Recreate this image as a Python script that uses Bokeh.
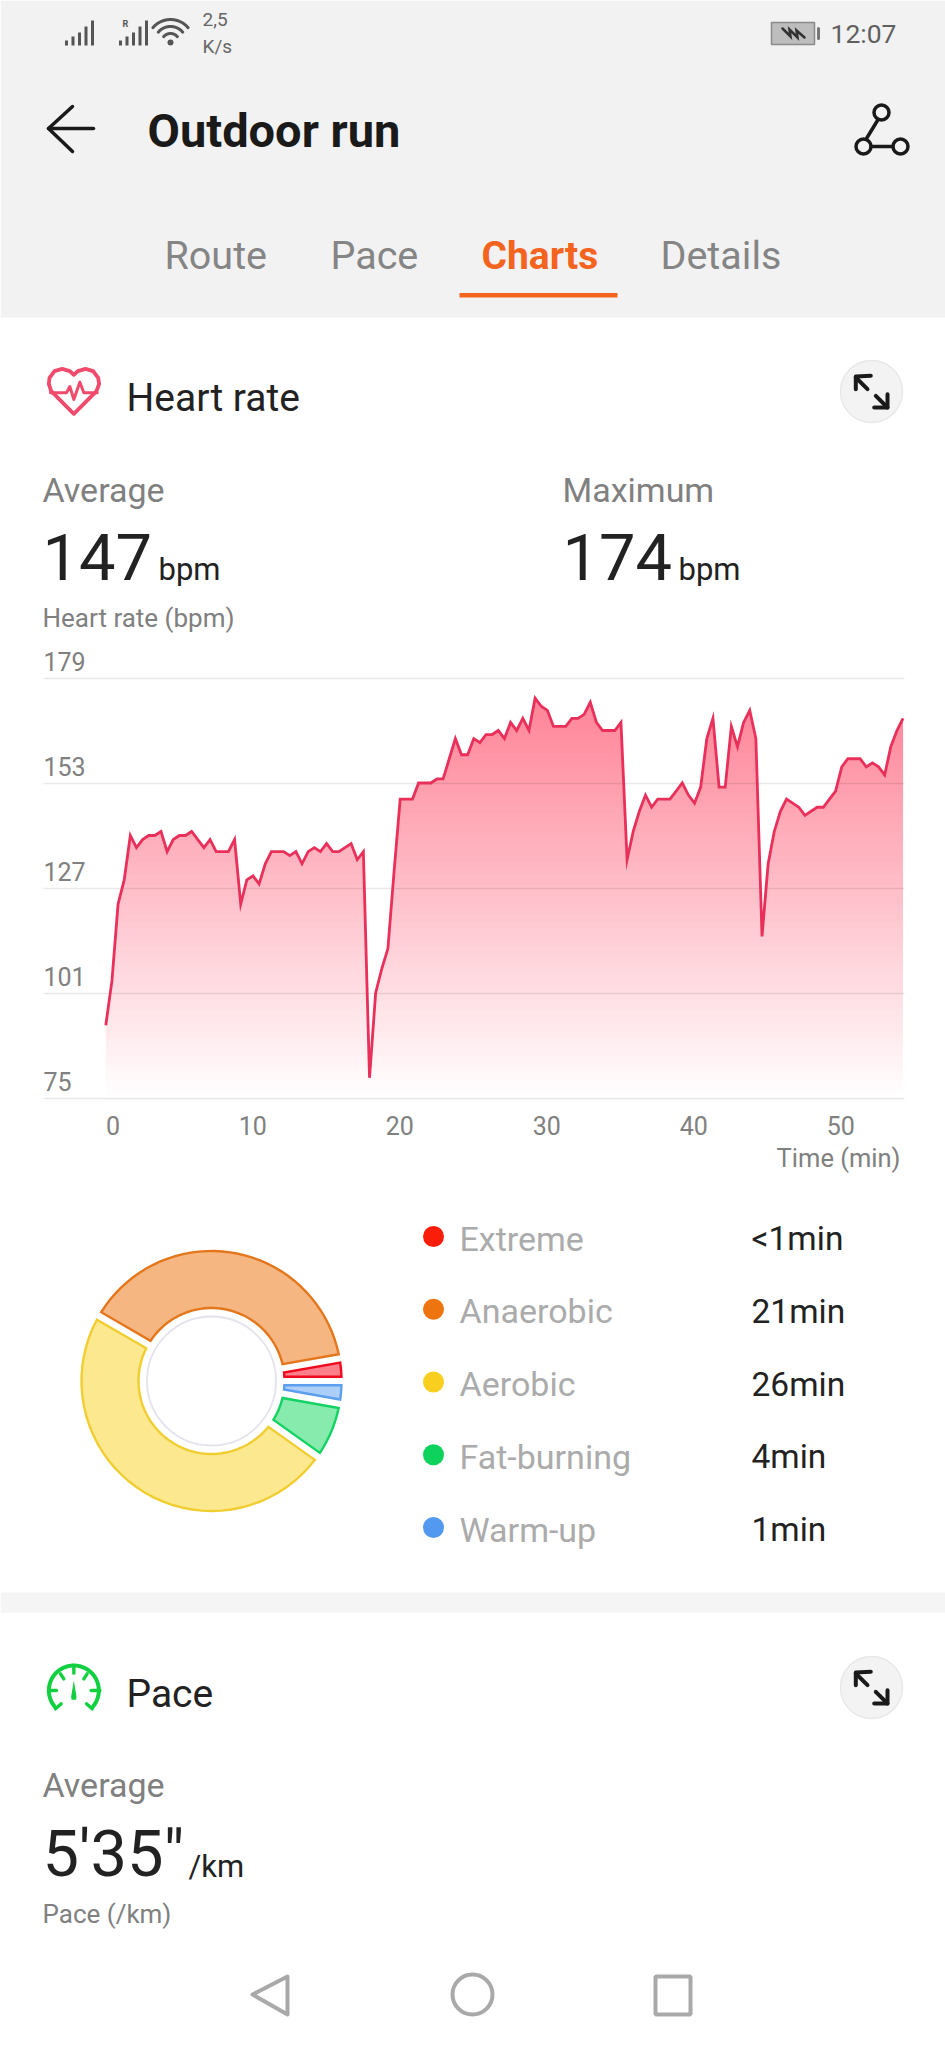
import numpy as np
from bokeh.core.properties import value
from bokeh.embed import file_html
from bokeh.layouts import column
from bokeh.models import FixedTicker, Range1d
from bokeh.plotting import figure
from bokeh.resources import INLINE

# ---- data ----
heart_rate = [
    93, 104, 123, 129, 140, 137, 139, 140, 140, 141,
    136, 139, 140, 140, 141, 139, 137, 139, 136, 136,
    136, 139, 123, 129, 130, 128, 133, 136, 136, 136,
    135, 136, 133, 136, 137, 136, 138, 136, 136, 137,
    138, 134, 136, 80, 101, 107, 112, 131, 149, 149,
    149, 153, 153, 153, 154, 154, 159, 164, 160, 160,
    164, 163, 165, 165, 166, 164, 168, 166, 169, 166,
    174, 172, 171, 167, 167, 167, 169, 169, 170, 173,
    168, 166, 166, 166, 168, 134, 141, 146, 150, 147,
    149, 149, 149, 151, 153, 150, 148, 152, 164, 169,
    152, 152, 167, 162, 168, 171, 164, 115, 133, 141,
    146, 149, 148, 147, 145, 146, 147, 147, 149, 151,
    157, 159, 159, 159, 157, 158, 157, 155, 162, 166,
    169,
]
sample_step_min = 0.4172
y_ticks = [75, 101, 127, 153, 179]
y_tick_labels = ["75", "101", "127", "153", "179"]
x_tick_positions = [0.5, 10, 20, 30, 40, 50]
x_tick_labels = ["0", "10", "20", "30", "40", "50"]

zone_names = ["Extreme", "Anaerobic", "Aerobic", "Fat-burning", "Warm-up"]
zone_labels = ["<1min", "21min", "26min", "4min", "1min"]
zone_share = [1.46, 20.4, 25.45, 3.7, 1.47]
zone_dot = ["#FA1E0A", "#EE7410", "#F8CF1E", "#0DD25C", "#5399F0"]
zone_line = ["#F00A1E", "#E4761C", "#F0CE32", "#14D264", "#5C9FEE"]
zone_fill = ["#FF7F8A", "#F6B682", "#FCE88E", "#86EBAD", "#ABCFF7"]

tabs = ["Route", "Pace", "Charts", "Details"]

FONT = value("Roboto")
W = 945
INK = "#222222"
GREY = "#808080"


def chrome(top, bottom):
    p = figure(width=W, height=bottom - top, x_range=Range1d(0, 945), y_range=Range1d(bottom, top),
               x_axis_location=None, y_axis_location=None, toolbar_location=None, output_backend="svg",
               min_border=0, outline_line_color=None, background_fill_color="white", frame_align=False)
    p.grid.visible = False
    return p


def T(p, x, y, s, size, color=INK, style="normal", align="left"):
    # y is the text's baseline in page pixels
    p.text(x=[x], y=[y - 0.355 * size], text=[s], text_font=FONT, text_font_size=f"{size}px", text_color=color,
           text_font_style=style, text_align=align, text_baseline="middle")


def L(p, xs, ys, color=INK, width=3.5, join="round"):
    p.line(xs, ys, line_color=color, line_width=width, line_join=join, line_cap="round")


def arc_pts(cx, cy, r, a0, a1, n=40):
    a = np.radians(np.linspace(a0, a1, n))
    return list(cx + r * np.cos(a)), list(cy - r * np.sin(a))


def expand_button(p, cx, cy):
    p.scatter([cx], [cy], size=62, marker="circle", fill_color="#F3F3F3", line_color="#E8E8E8", line_width=1.5)
    L(p, [cx - 15.7, cx - 4], [cy - 14, cy - 2.3], "#1A1A1A", 4)
    L(p, [cx + 4.3, cx + 16], [cy + 4.3, cy + 16], "#1A1A1A", 4)
    L(p, [cx - 15.7, cx - 15.7, cx - 0.7], [cy - 2.3, cy - 15, cy - 15.7], "#1A1A1A", 4)
    L(p, [cx + 16, cx + 16, cx + 2.7], [cy + 2.7, cy + 16, cy + 16], "#1A1A1A", 4)


# ---- chart geometry (page pixels) ----
PX_MIN = 14.7
PX_BPM = 105 / 26
GRID_TOP, GRID_BOTTOM = 677.5, 1097.5
CHART_TOP, FRAME_H, BOTTOM_BORDER = 640, 460, 40

# ---- header and card heading ----
top = chrome(0, CHART_TOP)
top.quad(left=[0], right=[945], top=[0], bottom=[317], fill_color="#F2F2F2", line_color=None)

for x0, hs in ((66, (5, 9, 13, 19, 25)), (120, (5, 9, 13, 19, 25))):
    top.segment(x0=[x0 + 6.5 * i for i in range(5)], y0=[45] * 5,
                x1=[x0 + 6.5 * i for i in range(5)], y1=[45 - h for h in hs],
                line_color="#555555", line_width=3)
T(top, 122, 27, "R", 9, "#555555", "bold")
for r in (9, 16, 23):
    xs, ys = arc_pts(170, 42, r, 40, 140)
    L(top, xs, ys, "#555555", 3)
top.scatter([170], [42], size=6, marker="circle", fill_color="#555555", line_color=None)
T(top, 202, 26, "2,5", 19, "#666666")
T(top, 202, 53, "K/s", 19, "#666666")
top.quad(left=[771], right=[814], top=[22], bottom=[44], fill_color="#BDBDBD", line_color="#8A8A8A", line_width=1.5)
L(top, [818, 818], [28, 38], "#777777", 3)
L(top, [782, 790, 789, 797, 796, 804], [28, 36, 29, 37, 30, 37], "#333333", 2.5, "miter")
T(top, 830, 42, "12:07", 26.5, "#5F5F5F")

L(top, [72, 48, 72], [106, 128, 151], "#1A1A1A", 3.5)
L(top, [48, 93], [128, 128], "#1A1A1A", 3.5)
T(top, 147, 147, "Outdoor run", 47, "#1A1A1A", "bold")
top.scatter([881, 863, 900], [112, 146, 146], size=15, marker="circle", fill_color="#F2F2F2",
            line_color="#1A1A1A", line_width=3.5)
L(top, [877, 866], [120, 138], "#1A1A1A", 3.5)
L(top, [871, 892], [146, 146], "#1A1A1A", 3.5)

for name, x in zip(tabs, (164, 330, 481, 660)):
    active = name == "Charts"
    T(top, x, 269, name, 39 if active else 39.5, "#F4641F" if active else "#858585", "bold" if active else "normal")
top.quad(left=[459], right=[617], top=[292.5], bottom=[297], fill_color="#F4641F", line_color=None)

hx = np.array([130, 118, 95, 72, 57, 55, 62, 130, 198, 206, 203, 188, 165, 142, 130]) / 3 + 30
hy = np.array([73, 62, 55, 62, 82, 100, 122, 190, 122, 100, 82, 62, 55, 62, 73]) / 3 + 350
L(top, list(hx), list(hy), "#F24A6C", 3.8)
ex = np.array([60, 108, 118, 130, 148, 160, 200]) / 3 + 30
ey = np.array([127, 127, 108, 147, 95, 127, 127]) / 3 + 350
L(top, list(ex), list(ey), "#F24A6C", 3)
T(top, 126, 411, "Heart rate", 39)
expand_button(top, 871, 391)

T(top, 42, 502, "Average", 34, GREY)
T(top, 562, 502, "Maximum", 34, GREY)
T(top, 42, 580, "147", 65)
T(top, 158, 580, "bpm", 31)
T(top, 562, 580, "174", 65)
T(top, 678, 580, "bpm", 31)
T(top, 42, 627, "Heart rate (bpm)", 26, GREY)

# ---- heart-rate chart ----
x_min, x_max = -(105.3 - 43) / PX_MIN, (904 - 105.3) / PX_MIN
y_min = 75 - (CHART_TOP + FRAME_H - GRID_BOTTOM) / PX_BPM
y_max = 179 + (GRID_TOP - CHART_TOP) / PX_BPM

chart = figure(width=W, height=FRAME_H + BOTTOM_BORDER, frame_width=861, frame_height=FRAME_H,
               x_range=Range1d(x_min, x_max), y_range=Range1d(y_min, y_max),
               toolbar_location=None, output_backend="svg", outline_line_color=None,
               min_border_left=43, min_border_right=41, min_border_top=0, min_border_bottom=BOTTOM_BORDER,
               background_fill_color="white", frame_align=False)
chart.yaxis.visible = False
chart.xgrid.visible = False
chart.ygrid.ticker = FixedTicker(ticks=y_ticks)
chart.ygrid.grid_line_color = "black"
chart.ygrid.grid_line_alpha = 0.09
chart.ygrid.grid_line_width = 1.3
chart.ygrid.level = "guide"

ax = chart.xaxis[0]
ax.ticker = FixedTicker(ticks=x_tick_positions)
ax.major_label_overrides = dict(zip(x_tick_positions, x_tick_labels))
ax.major_tick_line_color = None
ax.minor_tick_line_color = None
ax.axis_line_color = None
ax.major_label_standoff = 9
ax.major_label_text_font = "Roboto"
ax.major_label_text_font_size = "25px"
ax.major_label_text_color = GREY

time_min = np.arange(len(heart_rate)) * sample_step_min
hr = np.array(heart_rate, dtype=float)

# vertical gradient under the curve, drawn as thin bands clipped to the curve
xd = np.unique(np.concatenate([time_min, np.arange(0, time_min[-1], 0.1)]))
hd = np.interp(xd, time_min, hr)
edges = np.arange(75, 175.5, 1.5)
for lo, hi in reversed(list(zip(edges[:-1], edges[1:]))):
    t = ((lo + hi) / 2 - 75) / 100
    g = int(round(255 - 125 * t))
    b = int(round(255 - 105 * t))
    chart.varea(xd, np.minimum(hd, lo - 0.4), np.minimum(hd, hi), fill_color=f"#FF{g:02X}{b:02X}")

chart.line(time_min, hr, line_color="#E8305A", line_width=2.8, line_join="miter", level="annotation")
chart.text(x=[x_min] * len(y_ticks), y=y_ticks, text=y_tick_labels, y_offset=-16.5, text_font=FONT,
           text_font_size="25px", text_color=GREY, text_align="left", text_baseline="middle")

# ---- axis title, zone ring, legend, pace card, navigation ----
low = chrome(CHART_TOP + FRAME_H + BOTTOM_BORDER, 2048)
T(low, 900, 1167, "Time (min)", 25.5, GREY, align="right")

CX, CY, R_OUT, R_IN, GAP = 211, 1380.5, 130, 73, 4.3
bounds = np.concatenate([[0], np.cumsum(zone_share)]) / sum(zone_share) * 360
xs_all, ys_all = [], []
for a0, a1 in zip(bounds[:-1], bounds[1:]):
    d_o, d_i = np.degrees(np.arcsin(GAP / R_OUT)), np.degrees(np.arcsin(GAP / R_IN))
    ox, oy = arc_pts(CX, CY, R_OUT, a0 + d_o, a1 - d_o)
    ix, iy = arc_pts(CX, CY, R_IN, a1 - d_i, a0 + d_i)
    xs_all.append(ox + ix)
    ys_all.append(oy + iy)
low.patches(xs_all, ys_all, fill_color=zone_fill, line_color=zone_line, line_width=2.4, line_join="miter")
low.scatter([CX], [CY], size=129, marker="circle", fill_color="white", line_color="#E3E3EC", line_width=1.8)

LEG_Y = [1236 + 72.75 * i for i in range(len(zone_names))]
low.scatter([433] * 5, LEG_Y, size=21, marker="circle", fill_color=zone_dot, line_color=None)
low.text(x=[459] * 5, y=[v + 2 for v in LEG_Y], text=zone_names, text_font=FONT, text_font_size="34px",
         text_color="#ABABAB", text_baseline="middle")
low.text(x=[751] * 5, y=[v + 2 for v in LEG_Y], text=zone_labels, text_font=FONT, text_font_size="33.5px",
         text_color=INK, text_baseline="middle")

low.quad(left=[0], right=[945], top=[1592], bottom=[1612.5], fill_color="#F5F5F5", line_color=None)

GREEN = "#10D040"
gx = lambda v: 30 + v / 3
gy = lambda v: 1650 + v / 3
xs, ys = arc_pts(gx(130), gy(120), 25, -40, 220)
L(low, xs, ys, GREEN, 4)
for a, b, c, d in ((130, 45, 130, 68), (90, 70, 100, 85), (170, 70, 160, 85), (55, 120, 78, 120),
                   (208, 120, 182, 120), (75, 175, 92, 160), (185, 175, 168, 160)):
    L(low, [gx(a), gx(c)], [gy(b), gy(d)], GREEN, 3.4)
low.patch([gx(130), gx(122), gx(123), gx(137), gx(138)], [gy(90), gy(138), gy(148), gy(148), gy(138)],
          fill_color=GREEN, line_color=None)
T(low, 126, 1707, "Pace", 39)
expand_button(low, 871, 1687)
T(low, 42, 1797, "Average", 34, GREY)
T(low, 42, 1877, "5'35\"", 65)
T(low, 188, 1877, "/km", 31)
T(low, 42, 1923, "Pace (/km)", 26, GREY)

NAV = "#A9A9A9"
low.patch([287, 252, 287], [1976, 1994, 2014], fill_color="white", line_color=NAV, line_width=4, line_join="round")
low.scatter([472], [1994], size=40, marker="circle", fill_color="white", line_color=NAV, line_width=4)
low.quad(left=[655], right=[690], top=[1976], bottom=[2014], fill_color="white", line_color=NAV, line_width=4)

page = column(top, chart, low, spacing=0)
open("out.html", "w").write(file_html(page, INLINE))
